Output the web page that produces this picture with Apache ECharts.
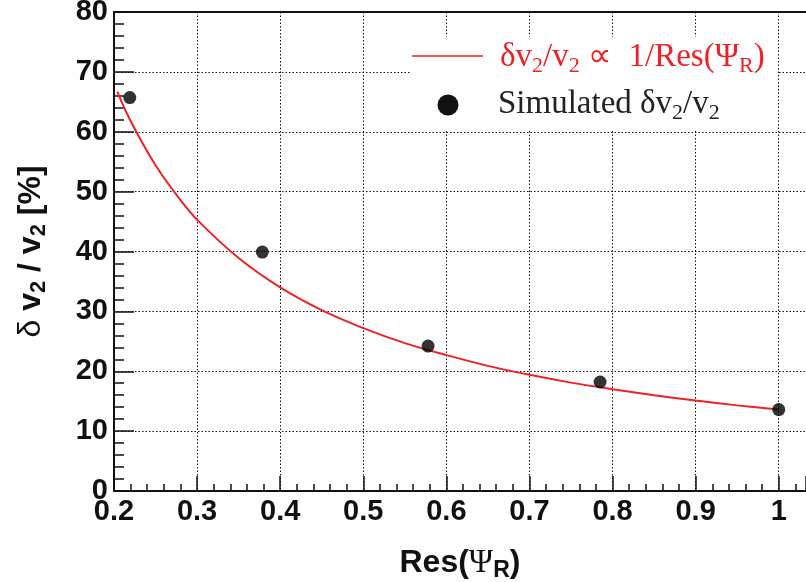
<!DOCTYPE html>
<html>
<head>
<meta charset="utf-8">
<script src="https://cdn.jsdelivr.net/npm/echarts@6/dist/echarts.min.js"></script>
<style>html,body{margin:0;padding:0;background:#fff;}#c{width:806px;height:582px;}</style>
</head>
<body>
<div id="c"></div>
<script>
// Simulated points: Res(Psi_R), delta v2/v2 [%]
const simRes = [0.219, 0.3785, 0.578, 0.785, 1.0];
const simVal = [65.7, 39.9, 24.2, 18.2, 13.6];
// Curve (delta v2/v2 ∝ 1/Res)
const curveRes = [0.204, 0.22, 0.25, 0.28, 0.3, 0.35, 0.4, 0.45, 0.5, 0.55, 0.6, 0.65, 0.7, 0.75, 0.8, 0.85, 0.9, 0.95, 1.0];
const curveVal = [66.7, 61.8, 54.4, 48.6, 45.3, 38.9, 34.0, 30.2, 27.2, 24.7, 22.7, 20.9, 19.4, 18.1, 17.0, 16.0, 15.1, 14.3, 13.6];
const xTicks = [0.2, 0.3, 0.4, 0.5, 0.6, 0.7, 0.8, 0.9, 1];
const yTicks = [0, 10, 20, 30, 40, 50, 60, 70, 80];

const RED = '#ee2225';
const tickFont = {fontFamily: 'Liberation Sans', fontWeight: 'bold', fontSize: 29, color: '#111'};
const dotted = {color: '#111', width: 1, type: [1.5, 2]};
const XMIN = 0.2, XMAX = 1.0328;

const chart = echarts.init(document.getElementById('c'), null, {renderer: 'canvas'});
chart.setOption({
  animation: false,
  backgroundColor: '#fff',
  grid: {left: 114, top: 12, right: 0, height: 479, show: false, outerBoundsMode: 'none', containLabel: false},
  xAxis: [{
    type: 'value', min: XMIN, max: XMAX, interval: 0.1,
    axisLine: {show: true, onZero: false, lineStyle: {color: '#111', width: 2}},
    axisTick: {show: true, inside: true, length: 15, lineStyle: {color: '#111', width: 1.5}},
    minorTick: {show: true, splitNumber: 5, length: 7, lineStyle: {color: '#111', width: 1.5}},
    splitLine: {show: true, lineStyle: dotted},
    axisLabel: Object.assign({margin: 6, showMaxLabel: false, formatter: v => xTicks.some(t => Math.abs(t - v) < 1e-6) ? (+v.toFixed(1)).toString() : ''}, tickFont),
    name: '{b|Res(}{p|Ψ}{s|R}{b|)}',
    nameLocation: 'middle', nameGap: 53,
    nameTextStyle: {
      rich: {
        b: {fontFamily: 'Liberation Sans', fontWeight: 'bold', fontSize: 32, color: '#111', lineHeight: 38, verticalAlign: 'middle'},
        p: {fontFamily: 'Liberation Serif', fontSize: 33, color: '#111', lineHeight: 38, verticalAlign: 'middle'},
        s: {fontFamily: 'Liberation Sans', fontWeight: 'bold', fontSize: 23, color: '#111', lineHeight: 38, verticalAlign: 'bottom'}
      }
    }
  }, {
    type: 'value', position: 'top', min: XMIN, max: XMAX,
    axisLine: {show: true, onZero: false, lineStyle: {color: '#111', width: 2}},
    axisTick: {show: false}, axisLabel: {show: false}, splitLine: {show: false}
  }],
  yAxis: {
    type: 'value', min: 0, max: 80, interval: 10,
    axisLine: {show: true, onZero: false, lineStyle: {color: '#111', width: 2}},
    axisTick: {show: true, inside: true, length: 20, lineStyle: {color: '#111', width: 1.5}},
    minorTick: {show: true, splitNumber: 5, length: 10, lineStyle: {color: '#111', width: 1.5}},
    splitLine: {show: true, lineStyle: dotted},
    axisLabel: Object.assign({margin: 6}, tickFont),
    name: '{d|δ }{b|v}{s|2}{b| / v}{s|2}{b| [%]}',
    nameLocation: 'middle', nameRotate: 90, nameGap: 64,
    nameTextStyle: {
      rich: {
        d: {fontFamily: 'Liberation Sans', fontSize: 32, color: '#111', lineHeight: 38, verticalAlign: 'middle'},
        b: {fontFamily: 'Liberation Sans', fontWeight: 'bold', fontSize: 32, color: '#111', lineHeight: 38, verticalAlign: 'middle'},
        s: {fontFamily: 'Liberation Sans', fontWeight: 'bold', fontSize: 22, color: '#111', lineHeight: 38, verticalAlign: 'bottom'}
      }
    }
  },
  series: [
    {
      name: 'fit', type: 'line', smooth: 0.4, showSymbol: false, z: 3,
      data: curveRes.map((x, i) => [x, curveVal[i]]),
      lineStyle: {color: RED, width: 2}
    },
    {
      name: 'sim', type: 'scatter', symbol: 'circle', symbolSize: 13, z: 4,
      data: simRes.map((x, i) => [x, simVal[i]]),
      itemStyle: {color: '#000'}
    }
  ],
  graphic: [
    {type: 'rect', z: 10, shape: {x: 410, y: 37, width: 368, height: 92}, style: {fill: '#fff'}},
    {type: 'line', z: 11, shape: {x1: 412, y1: 56, x2: 483, y2: 56}, style: {stroke: RED, lineWidth: 1.5}},
    {type: 'circle', z: 11, shape: {cx: 448, cy: 105, r: 10.5}, style: {fill: '#111'}},
    {type: 'text', z: 11, x: 500, y: 57, style: {
      text: '{n|δv}{s|2}{n|/v}{s|2}{n| ∝  1/Res(Ψ}{s|R}{n|)}',
      verticalAlign: 'middle',
      rich: {
        n: {fontFamily: 'Liberation Serif', fontSize: 33, fill: RED, lineHeight: 40, verticalAlign: 'middle'},
        s: {fontFamily: 'Liberation Serif', fontSize: 22, fill: RED, lineHeight: 40, verticalAlign: 'bottom'}
      }
    }},
    {type: 'text', z: 11, x: 498, y: 104, style: {
      text: '{n|Simulated δv}{s|2}{n|/v}{s|2}',
      verticalAlign: 'middle',
      rich: {
        n: {fontFamily: 'Liberation Serif', fontSize: 33, fill: '#222', lineHeight: 40, verticalAlign: 'middle'},
        s: {fontFamily: 'Liberation Serif', fontSize: 22, fill: '#222', lineHeight: 40, verticalAlign: 'bottom'}
      }
    }}
  ]
});
</script>
</body>
</html>
